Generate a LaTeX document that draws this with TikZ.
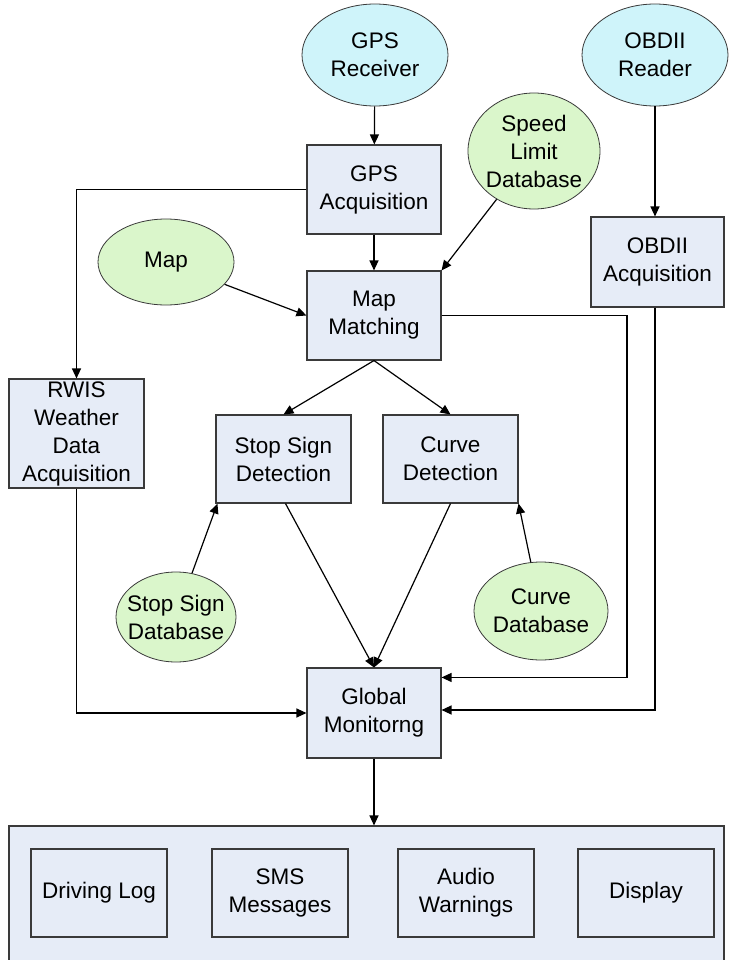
\documentclass[tikz,border=0pt]{standalone}
\usepackage{fontspec}
\setmainfont{Liberation Sans}
\usetikzlibrary{arrows.meta,shapes.geometric,calc}

\definecolor{boxfill}{HTML}{E6ECF7}
\definecolor{cyanfill}{HTML}{CFF4FA}
\definecolor{greenfill}{HTML}{DAF6CB}
\definecolor{edge}{HTML}{3A3A3A}

% zero-width line so the ellipse keeps its given size
\newcommand{\zl}[1]{\makebox[0pt]{#1}}

\begin{document}
\begin{tikzpicture}[x=1pt,y=-1pt,
  every node/.style={font=\fontsize{22.5pt}{28pt}\selectfont, align=center},
  box/.style={draw=edge, line width=1.1pt, fill=boxfill, inner sep=0pt},
  src/.style={ellipse, draw=edge, line width=0.8pt, fill=cyanfill, inner sep=0pt},
  db/.style={ellipse, draw=edge, line width=0.8pt, fill=greenfill, inner sep=0pt},
  arr/.style={draw=black, line width=1.2pt, -{Triangle[length=10pt,width=9pt]}}]
\useasboundingbox (0,0) rectangle (729,960);

% input sources and databases
\node[src, minimum width=146pt, minimum height=102pt] (gpsr) at (375,55) {\zl{GPS}\\\zl{Receiver}};
\node[src, minimum width=146pt, minimum height=102pt] (obdr) at (655,55) {\zl{OBDII}\\\zl{Reader}};
\node[db, minimum width=132pt, minimum height=116pt] (sld) at (534,151) {\zl{Speed}\\\zl{Limit}\\\zl{Database}};
\node[db, minimum width=136pt, minimum height=86pt] (map) at (166,262) {\zl{Map}};
\node[db, minimum width=120pt, minimum height=90pt] (ssdb) at (176,617) {\zl{Stop Sign}\\\zl{Database}};
\node[db, minimum width=134pt, minimum height=98pt] (cdb) at (541,611) {\zl{Curve}\\\zl{Database}};

% processing blocks
\node[box, minimum width=134pt, minimum height=89pt] (gpsacq) at (374,189.5) {GPS\\Acquisition};
\node[box, minimum width=134pt, minimum height=89pt] (mm) at (374,315.5) {Map\\Matching};
\node[box, minimum width=133pt, minimum height=90pt] (obdacq) at (657.5,262) {OBDII\\Acquisition};
\node[box, minimum width=135pt, minimum height=109pt] (rwis) at (76.5,433.5) {RWIS\\Weather\\Data\\Acquisition};
\node[box, minimum width=135pt, minimum height=88pt] (ssd) at (283.5,459) {Stop Sign\\Detection};
\node[box, minimum width=135pt, minimum height=88pt] (cd) at (450.5,459) {Curve\\Detection};
\node[box, minimum width=134pt, minimum height=90pt] (gm) at (374,713) {Global\\Monitorng};

% output group
\node[box, minimum width=715pt, minimum height=136pt] (out) at (366.5,894) {};
\node[box, minimum width=136pt, minimum height=88pt] (dl) at (99,893) {Driving Log};
\node[box, minimum width=136pt, minimum height=88pt] (sms) at (280,893) {SMS\\Messages};
\node[box, minimum width=136pt, minimum height=88pt] (aw) at (466,893) {Audio\\Warnings};
\node[box, minimum width=136pt, minimum height=88pt] (disp) at (646,893) {Display};

% connectors
\draw[arr] (gpsr) -- (gpsacq);
\draw[arr] (gpsacq) -- (mm);
\draw[arr] (gpsacq.west) -| (rwis.north);
\draw[arr] (sld) -- (mm.north east);
\draw[arr] (map) -- (mm.west);
\draw[arr] (obdr) -- (obdr |- obdacq.north);
\draw[arr] (mm.south) -- (ssd.north);
\draw[arr] (mm.south) -- (cd.north);
\draw[arr] (mm.east) -- (mm.east -| 627,0) |- ([yshift=-10pt]gm.north east);
\draw[arr] ([xshift=-2.5pt]obdacq.south) |- ([yshift=3pt]gm.east);
\draw[arr] (rwis.south) |- (gm.west);
\draw[arr] ([xshift=2pt]ssd.south) -- (gm.north);
\draw[arr] (cd.south) -- (gm.north);
\draw[arr] (ssdb) -- ([xshift=2pt]ssd.south west);
\draw[arr] (cdb) -- (cd.south east);
\draw[arr] (gm.south) -- (gm.south |- out.north);
\end{tikzpicture}
\end{document}
